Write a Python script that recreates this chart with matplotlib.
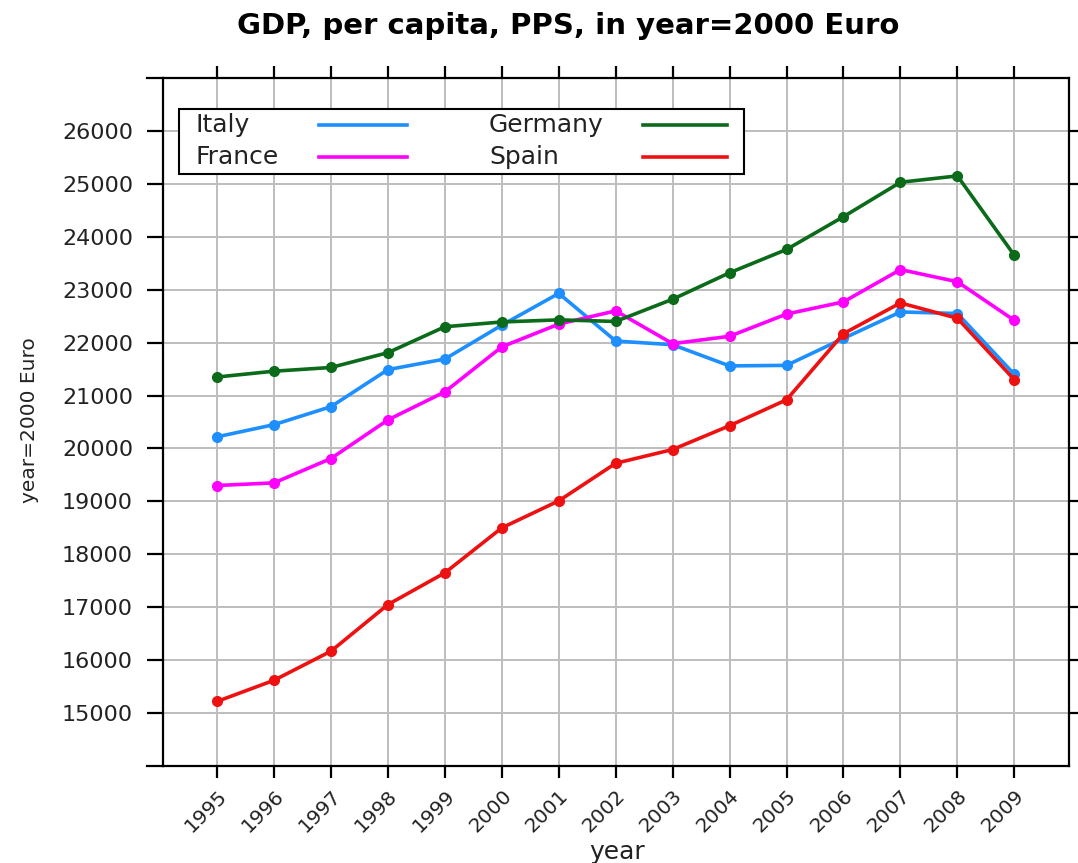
import numpy as np
import matplotlib
matplotlib.use('Agg')
import matplotlib.pyplot as plt
from matplotlib.patches import Rectangle

plt.rcParams['font.family'] = ['DejaVu Sans']

years = np.arange(1995, 2010)
italy = [20220, 20450, 20790, 21490, 21690, 22330, 22930, 22030, 21960,
         21560, 21570, 22080, 22580, 22550, 21400]
france = [19300, 19350, 19810, 20540, 21070, 21920, 22350, 22600, 21980,
          22120, 22540, 22770, 23380, 23150, 22420]
germany = [21350, 21460, 21530, 21810, 22300, 22390, 22430, 22400, 22820,
           23320, 23760, 24380, 25030, 25150, 23650]
spain = [15220, 15620, 16170, 17050, 17650, 18500, 19010, 19720, 19980,
         20430, 20920, 22170, 22750, 22460, 21300]

series = [('Italy', italy, '#1e8fff'), ('France', france, '#ff00ff'),
          ('Germany', germany, '#0b6b1a'), ('Spain', spain, '#ee1111')]
yticks = np.arange(15000, 26001, 1000)

C_GRID = '#bdbdbd'
PX = 72 / 100  # points per pixel at dpi 100

fig = plt.figure(figsize=(10.78, 8.63), dpi=100)
ax = fig.add_axes([163/1078, 1-766/863, 906/1078, 688/863])

for name, vals, col in series:
    ax.plot(years, vals, '-o', color=col, linewidth=2.6, markersize=7, zorder=3)

ax.set_xlim(1994.05, 2009.96)
ax.set_ylim(14000, 27000)
ax.set_xticks(years)
ax.set_xticklabels([str(y) for y in years], rotation=45, ha='right', va='top',
                   rotation_mode='anchor', fontsize=14.5, color='#222222')
ax.set_yticks(yticks)
ax.set_yticklabels([str(v) for v in yticks], fontsize=16, color='#222222')
ax.grid(True, color=C_GRID, linewidth=1.4, zorder=0)
ax.set_axisbelow(True)

ax.tick_params(axis='both', direction='out', length=12*PX, width=1.6, color='black',
               top=True, right=True, labeltop=False, labelright=False)
ax.tick_params(axis='y', length=16*PX, pad=14*PX)
ax.tick_params(axis='x', pad=8*PX)
for sp in ax.spines.values():
    sp.set_linewidth(1.6)

# horizontal frame lines stick out past the left axis
for yy in (0, 1):
    ax.plot([-16/906, 0], [yy, yy], color='black', linewidth=1.6,
            transform=ax.transAxes, clip_on=False)

# legend box, text first then line
ax.add_patch(Rectangle((16/906, 0.8605), 565/906, 0.0945, transform=ax.transAxes,
                       facecolor='white', edgecolor='black', linewidth=1.5, zorder=5))
text_x = [33/906, 326/906]
line_x = [(156/906, 244/906), (480/906, 564/906)]
rows_y = [0.9317, 0.8852]
for i, (name, vals, col) in enumerate(series):
    c, r = i // 2, i % 2
    ax.text(text_x[c], rows_y[r], name, transform=ax.transAxes, fontsize=18,
            va='center', ha='left', color='#222222', zorder=6)
    ax.plot(line_x[c], [rows_y[r], rows_y[r]], color=col, linewidth=2.6,
            transform=ax.transAxes, zorder=6)

ax.set_ylabel('year=2000 Euro', fontsize=14.5, color='#222222')
ax.yaxis.set_label_coords(-0.137, 0.503)
ax.set_xlabel('year', fontsize=18, color='#222222', va='center')
ax.xaxis.set_label_coords(0.501, -0.125)
fig.text(0.527, 0.970, 'GDP, per capita, PPS, in year=2000 Euro',
         ha='center', va='center', fontsize=21, fontweight='bold')

fig.savefig('out.png', dpi=100)
